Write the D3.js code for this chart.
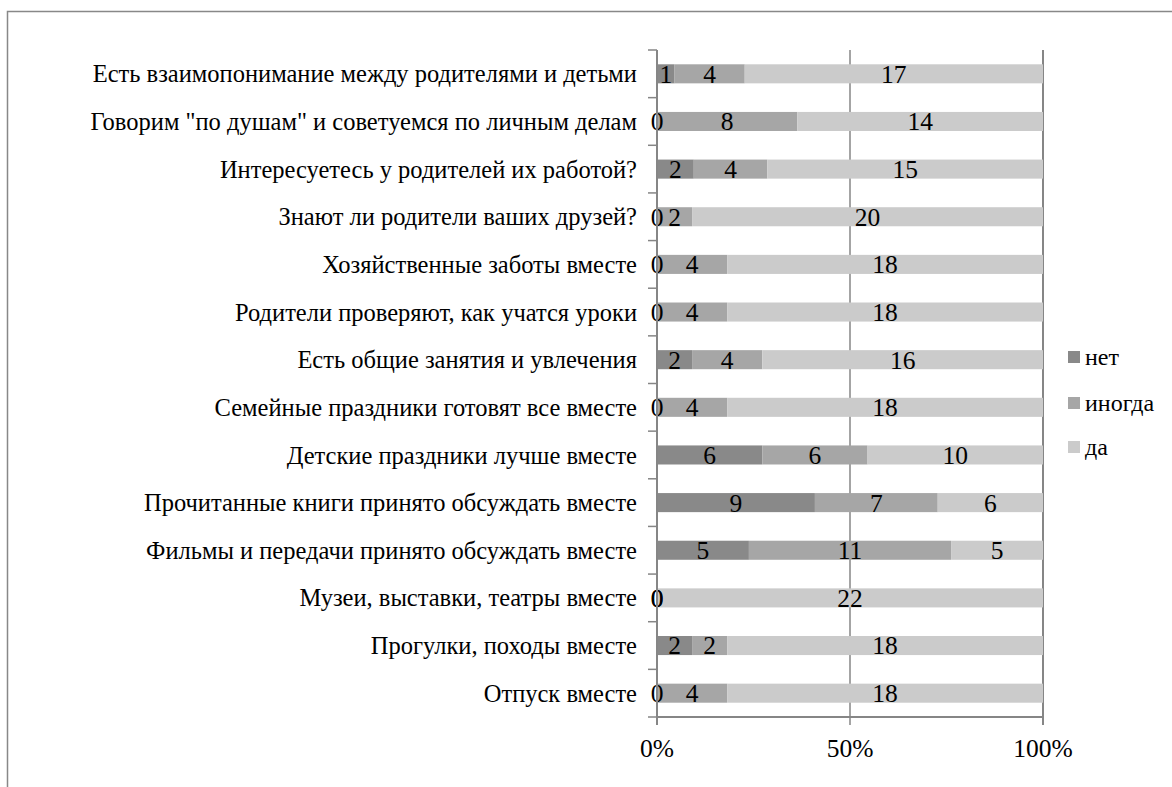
<!DOCTYPE html>
<html><head><meta charset="utf-8">
<script src="https://cdn.jsdelivr.net/npm/d3@7"></script>
<style>
html,body{margin:0;padding:0;background:#fff;}
text{font-family:"Liberation Serif","Times New Roman",serif;fill:#000;}
</style></head>
<body><svg id="c" width="1172" height="787"></svg>
<script>
const categories = [
  "Есть взаимопонимание между родителями и детьми",
  "Говорим \"по душам\" и советуемся по личным делам",
  "Интересуетесь у родителей их работой?",
  "Знают ли родители ваших друзей?",
  "Хозяйственные заботы вместе",
  "Родители проверяют, как учатся уроки",
  "Есть общие занятия и увлечения",
  "Семейные праздники готовят все вместе",
  "Детские праздники лучше вместе",
  "Прочитанные книги принято обсуждать вместе",
  "Фильмы и передачи принято обсуждать вместе",
  "Музеи, выставки,  театры вместе",
  "Прогулки, походы вместе",
  "Отпуск вместе"
];
const seriesNames = ["нет", "иногда", "да"];
const net    = [1, 0, 2, 0, 0, 0, 2, 0, 6, 9, 5, 0, 2, 0];
const inogda = [4, 8, 4, 2, 4, 4, 4, 4, 6, 7, 11, 0, 2, 4];
const da     = [17, 14, 15, 20, 18, 18, 16, 18, 10, 6, 5, 22, 18, 18];
const xTicks = [0, 0.5, 1];
const colors = ["#898989", "#a6a6a6", "#cbcbcb"];

const rows = categories.map((c, i) => ({cat: c, "нет": net[i], "иногда": inogda[i], "да": da[i]}));
const stack = d3.stack().keys(seriesNames).offset(d3.stackOffsetExpand);
const layers = stack(rows);

const svg = d3.select("#c");
const L = 657, R = 1043, T = 50, B = 717;
const x = d3.scaleLinear().domain([0, 1]).range([L, R]);
const y = d3.scaleBand().domain(categories).range([T, B]).paddingInner(0.6).paddingOuter(0.3);
const band = (B - T) / categories.length;

// outer border (clipped by viewport on right/bottom)
svg.append("rect").attr("x", 7.5).attr("y", 11.5).attr("width", 1300).attr("height", 900)
  .attr("fill", "none").attr("stroke", "#888").attr("stroke-width", 1.5);

// gridlines at 50% and 100%
svg.append("g").selectAll("line").data(xTicks.filter(t => t > 0)).join("line")
  .attr("x1", d => x(d)).attr("x2", d => x(d)).attr("y1", T).attr("y2", B)
  .attr("stroke", "#868686").attr("stroke-width", d => d === 1 ? 2 : 1.5);

// bars
const g = svg.append("g");
layers.forEach((layer, si) => {
  g.append("g").selectAll("rect").data(layer).join("rect")
    .attr("x", d => x(d[0])).attr("width", d => x(d[1]) - x(d[0]))
    .attr("y", d => y(d.data.cat)).attr("height", y.bandwidth())
    .attr("fill", colors[si]);
});

// data labels
layers.forEach((layer, si) => {
  g.append("g").selectAll("text").data(layer).join("text")
    .attr("x", d => (x(d[0]) + x(d[1])) / 2)
    .attr("y", d => y(d.data.cat) + y.bandwidth() / 2)
    .attr("dy", "0.35em").attr("text-anchor", "middle")
    .style("font-size", "25.5px")
    .text(d => d.data[layer.key]);
});

// y axis line and ticks
svg.append("line").attr("x1", L).attr("x2", L).attr("y1", T).attr("y2", B + 8)
  .attr("stroke", "#868686").attr("stroke-width", 2);
const yTickPos = d3.range(categories.length + 1).map(i => T + i * band);
svg.append("g").selectAll("line").data(yTickPos).join("line")
  .attr("x1", L - 9).attr("x2", L).attr("y1", d => d).attr("y2", d => d)
  .attr("stroke", "#868686").attr("stroke-width", 1.5);

// x axis line and ticks
svg.append("line").attr("x1", L).attr("x2", R).attr("y1", B).attr("y2", B)
  .attr("stroke", "#868686").attr("stroke-width", 2);
svg.append("g").selectAll("line").data(xTicks).join("line")
  .attr("x1", d => x(d)).attr("x2", d => x(d)).attr("y1", B).attr("y2", B + 8)
  .attr("stroke", "#868686").attr("stroke-width", d => d === 0.5 ? 1.5 : 2);
svg.append("g").selectAll("text").data(xTicks).join("text")
  .attr("x", d => x(d)).attr("y", 748).attr("dy", "0.35em")
  .attr("text-anchor", "middle").style("font-size", "25.5px")
  .text(d => d3.format(".0%")(d));

// category labels
svg.append("g").selectAll("text").data(categories).join("text")
  .attr("x", 637).attr("y", d => y(d) + y.bandwidth() / 2).attr("dy", "0.35em")
  .attr("text-anchor", "end").style("font-size", "24.5px")
  .text(d => d);

// legend
const lg = svg.append("g");
const legY = [357, 403, 447];
seriesNames.forEach((s, i) => {
  lg.append("rect").attr("x", 1068).attr("y", legY[i] - 6).attr("width", 12).attr("height", 12).attr("fill", colors[i]);
  lg.append("text").attr("x", 1085).attr("y", legY[i]).attr("dy", "0.35em")
    .style("font-size", "24px").text(s);
});
</script></body></html>
